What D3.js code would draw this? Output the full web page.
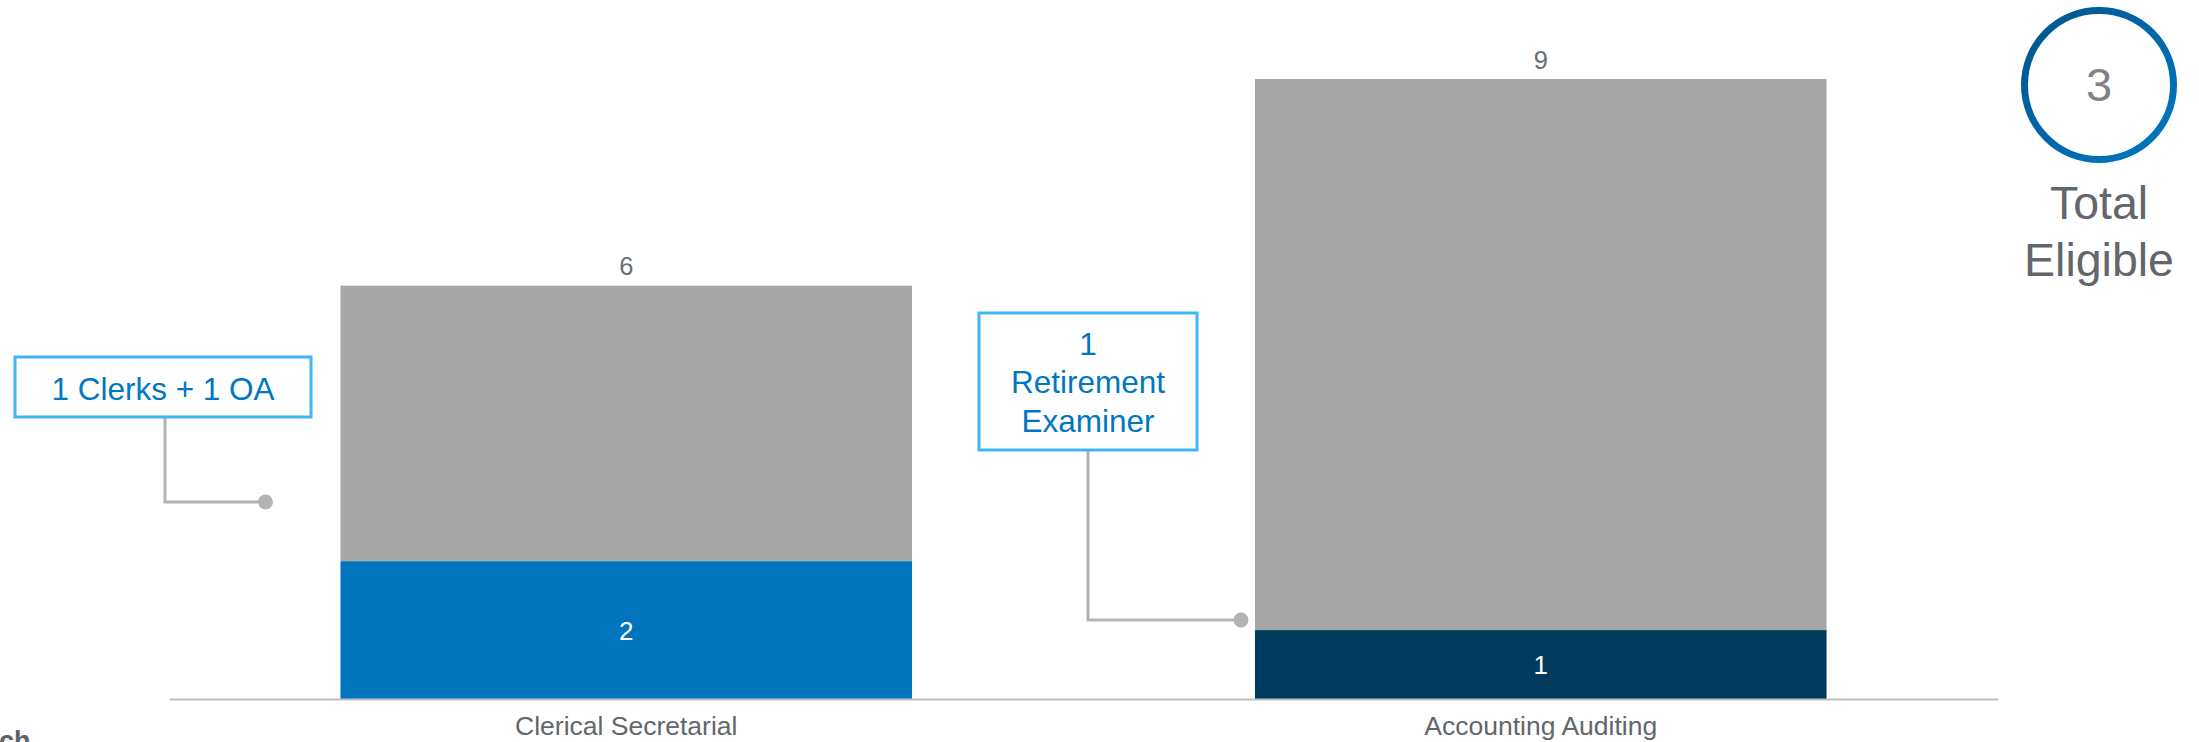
<!DOCTYPE html>
<html>
<head>
<meta charset="utf-8">
<script src="https://cdn.jsdelivr.net/npm/d3@7"></script>
<style>
  html, body { margin: 0; padding: 0; background: #ffffff; overflow: hidden; }
  svg { display: block; font-family: "Liberation Sans", Arial, sans-serif; }
</style>
</head>
<body>
<svg id="chart" width="2199" height="742"></svg>
<script>
// ---- data ----
const categories = ["Clerical Secretarial", "Accounting Auditing"];
const totals = [6, 9];
const highlighted = [2, 1];
const highlightColors = ["#0075BE", "#003A5D"];
const calloutTexts = [["1 Clerks + 1 OA"], ["1", "Retirement", "Examiner"]];
const totalEligible = 3;
const totalEligibleLabel = ["Total", "Eligible"];
const footerText = "ch";

// ---- layout ----
const W = 2199, H = 742;
const baseY = 699;
const svg = d3.select("#chart");

const x = d3.scaleBand()
  .domain(categories)
  .range([169, 1998])
  .paddingInner(0.375)
  .paddingOuter(0.1875);

const y = d3.scaleLinear().domain([0, 9]).range([baseY, 79]);

const rows = categories.map((c, i) => ({
  cat: c, total: totals[i], hi: highlighted[i], color: highlightColors[i]
}));

// gray (rest) segments
svg.append("g").selectAll("rect.rest")
  .data(rows).join("rect")
  .attr("class", "rest")
  .attr("x", d => x(d.cat))
  .attr("width", x.bandwidth())
  .attr("y", d => y(d.total))
  .attr("height", d => y(d.hi) - y(d.total))
  .attr("fill", "#A6A6A6");

// highlighted segments
svg.append("g").selectAll("rect.hi")
  .data(rows).join("rect")
  .attr("class", "hi")
  .attr("x", d => x(d.cat))
  .attr("width", x.bandwidth())
  .attr("y", d => y(d.hi))
  .attr("height", d => y(0) - y(d.hi))
  .attr("fill", d => d.color);

// total labels
svg.append("g").selectAll("text")
  .data(rows).join("text")
  .attr("x", d => x(d.cat) + x.bandwidth() / 2)
  .attr("y", d => y(d.total) - 10.5)
  .attr("text-anchor", "middle")
  .attr("font-size", 25.5)
  .attr("fill", "#6b6e72")
  .text(d => d.total);

// highlighted labels
svg.append("g").selectAll("text")
  .data(rows).join("text")
  .attr("x", d => x(d.cat) + x.bandwidth() / 2)
  .attr("y", d => (y(d.hi) + y(0)) / 2 + 9.5)
  .attr("text-anchor", "middle")
  .attr("font-size", 26)
  .attr("fill", "#ffffff")
  .text(d => d.hi);

// axis
const axis = d3.axisBottom(x).tickSize(0).tickPadding(17);
const gAxis = svg.append("g").attr("transform", `translate(0,${baseY})`).call(axis);
gAxis.select(".domain").attr("stroke", "#c0c0c0").attr("stroke-width", 2);
gAxis.selectAll("text")
  .attr("font-size", 26.5)
  .attr("font-family", "'Liberation Sans', Arial, sans-serif")
  .attr("fill", "#63666a");

// callouts (annotation layout, anchored to bands)
const callouts = [
  { lines: calloutTexts[0], bx: 15, by: 357, bw: 296, bh: 60, lineX: 165, dotX: x(categories[0]) - 75, dotY: 502, firstBaseline: 399.5 },
  { lines: calloutTexts[1], bx: 979, by: 313, bw: 218, bh: 137, lineX: 1088, dotX: x(categories[1]) - 14, dotY: 620, firstBaseline: 355 }
];
const gc = svg.append("g");
callouts.forEach(c => {
  gc.append("path")
    .attr("d", `M${c.lineX},${c.by + c.bh}V${c.dotY}H${c.dotX}`)
    .attr("fill", "none")
    .attr("stroke", "#b3b3b3")
    .attr("stroke-width", 3);
  gc.append("circle")
    .attr("cx", c.dotX).attr("cy", c.dotY).attr("r", 7.5)
    .attr("fill", "#b3b3b3");
  gc.append("rect")
    .attr("x", c.bx).attr("y", c.by).attr("width", c.bw).attr("height", c.bh)
    .attr("fill", "#ffffff")
    .attr("stroke", "#41B6F6")
    .attr("stroke-width", 3);
  const t = gc.append("text")
    .attr("text-anchor", "middle")
    .attr("font-size", 31.5)
    .attr("fill", "#0077C0");
  c.lines.forEach((ln, i) => {
    t.append("tspan")
      .attr("x", c.bx + c.bw / 2)
      .attr("y", c.firstBaseline + i * 38.3)
      .text(ln);
  });
});

// total eligible badge
const defs = svg.append("defs");
const grad = defs.append("linearGradient").attr("id", "ring")
  .attr("x1", "0").attr("y1", "0").attr("x2", "1").attr("y2", "1");
grad.append("stop").attr("offset", "0%").attr("stop-color", "#00558C");
grad.append("stop").attr("offset", "100%").attr("stop-color", "#0079C2");

const cx = 2099, cy = 85;
svg.append("circle")
  .attr("cx", cx).attr("cy", cy).attr("r", 74.5)
  .attr("fill", "none")
  .attr("stroke", "url(#ring)")
  .attr("stroke-width", 7);
svg.append("text")
  .attr("x", cx).attr("y", 101)
  .attr("text-anchor", "middle")
  .attr("font-size", 47)
  .attr("fill", "#808285")
  .text(totalEligible);
const tl = svg.append("text")
  .attr("text-anchor", "middle")
  .attr("font-size", 46.5)
  .attr("fill", "#63666a");
totalEligibleLabel.forEach((ln, i) => {
  tl.append("tspan").attr("x", cx).attr("y", 218.5 + i * 57).text(ln);
});

// cropped footer text (cut off at the bottom edge, as in the reference)
svg.append("text")
  .attr("x", -1).attr("y", 750)
  .attr("font-size", 27)
  .attr("font-weight", "bold")
  .attr("fill", "#5f6266")
  .text(footerText);
</script>
</body>
</html>
